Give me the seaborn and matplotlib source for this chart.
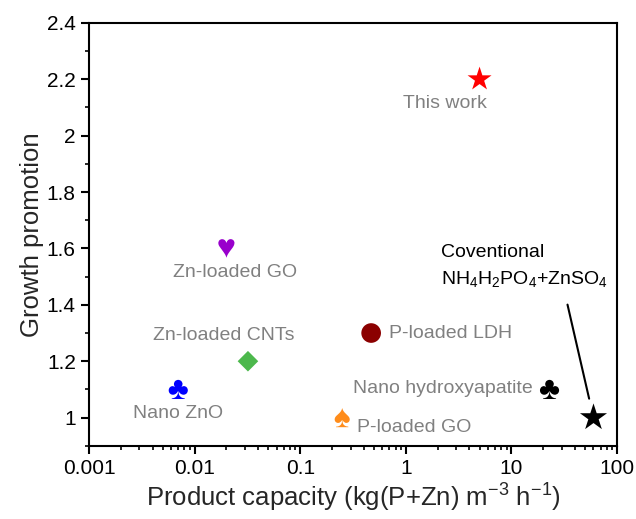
import matplotlib
matplotlib.use("Agg")
import matplotlib.pyplot as plt
import seaborn as sns
import pandas as pd
from matplotlib.ticker import FixedLocator, LogLocator, NullFormatter, FuncFormatter

sns.set_theme(style="ticks")
plt.rcParams["font.family"] = ["Liberation Sans", "DejaVu Sans"]
plt.rcParams["mathtext.default"] = "regular"

# Materials compared
names = ["This work", "Zn-loaded GO", "Zn-loaded CNTs", "Nano ZnO",
         "P-loaded LDH", "P-loaded GO", "Nano hydroxyapatite", "Conventional"]
capacity = [5.0, 0.020, 0.032, 0.0070, 0.47, 0.25, 23.0, 60.0]
growth = [2.2, 1.6, 1.2, 1.1, 1.3, 1.0, 1.1, 1.0]

colors = ["#ff0000", "#9900cc", "#4cb84c", "#0000ff",
          "#8b0000", "#ff8c1a", "#000000", "#000000"]
markers = ["*", "$\u2665$", "D", "$\u2663$", "o", "$\u2660$", "$\u2663$", "*"]
sizes = [330, 180, 110, 190, 200, 190, 190, 420]

df = pd.DataFrame({"name": names, "capacity": capacity, "growth": growth,
                   "msize": sizes})

fig = plt.figure(figsize=(6.36, 5.19), dpi=100)
ax = fig.add_axes([0.140, 0.141, 0.830, 0.815])

sns.scatterplot(data=df, x="capacity", y="growth", hue="name", style="name",
                size="msize", sizes=(min(sizes), max(sizes)),
                palette=dict(zip(names, colors)),
                markers=dict(zip(names, markers)),
                linewidth=0, legend=False, ax=ax, zorder=3)

ax.set_xscale("log")
ax.set_xlim(0.001, 100)
ax.set_ylim(0.9, 2.4)

gray = "#808080"
label_specs = {
    "This work": (-35, -24, "center"),
    "Zn-loaded GO": (9, -24, "center"),
    "Zn-loaded CNTs": (-24, 26, "center"),
    "Nano ZnO": (0, -24, "center"),
    "P-loaded LDH": (18, 0, "left"),
    "P-loaded GO": (15, -10, "left"),
    "Nano hydroxyapatite": (-17, 1, "right"),
}
for n, c, g in zip(names, capacity, growth):
    if n in label_specs:
        dx, dy, ha = label_specs[n]
        ax.annotate(n, xy=(c, g), xytext=(dx, dy), textcoords="offset pixels",
                    ha=ha, va="center", fontsize=14, color=gray)

cx, cy = capacity[-1], growth[-1]
ax.annotate("Coventional", xy=(cx, cy), xytext=(-152, 165),
            textcoords="offset pixels", ha="left", va="center",
            fontsize=14, color="black")
ax.annotate(r"NH$_4$H$_2$PO$_4$+ZnSO$_4$", xy=(cx, cy), xytext=(-152, 139),
            textcoords="offset pixels", ha="left", va="center",
            fontsize=14, color="black")
ax.annotate("", xy=(cx, cy), xytext=(-26, 113), textcoords="offset pixels",
            arrowprops=dict(arrowstyle="-", color="black", lw=1.5,
                            shrinkA=0, shrinkB=14))

ax.yaxis.set_major_locator(FixedLocator([1.0, 1.2, 1.4, 1.6, 1.8, 2.0, 2.2, 2.4]))
ax.yaxis.set_minor_locator(FixedLocator([0.9, 1.1, 1.3, 1.5, 1.7, 1.9, 2.1, 2.3]))
ax.yaxis.set_major_formatter(FuncFormatter(lambda v, p: f"{v:g}"))
ax.xaxis.set_major_locator(LogLocator(base=10, numticks=10))
ax.xaxis.set_minor_locator(LogLocator(base=10, subs=range(2, 10), numticks=20))
ax.xaxis.set_minor_formatter(NullFormatter())
ax.xaxis.set_major_formatter(FuncFormatter(lambda v, p: f"{v:g}"))

ax.tick_params(axis="both", which="major", direction="out", length=6,
               width=1.5, labelsize=15, color="black", labelcolor="black",
               top=False, right=False)
ax.tick_params(axis="both", which="minor", direction="out", length=3,
               width=1.2, color="black", top=False, right=False)
for s in ax.spines.values():
    s.set_linewidth(1.5)
    s.set_color("black")
    s.set_visible(True)

ax.set_xlabel(r"Product capacity (kg(P+Zn) m$^{-3}$ h$^{-1}$)", fontsize=18.5,
              labelpad=3)
ax.set_ylabel("Growth promotion", fontsize=18.5, labelpad=2)

fig.savefig("out.png", dpi=100)
